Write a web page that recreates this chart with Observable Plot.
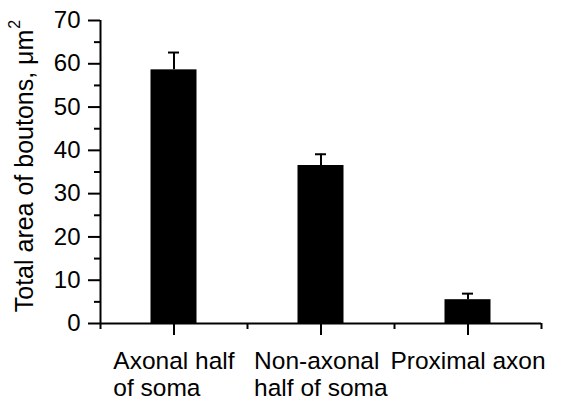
<!DOCTYPE html>
<html><head><meta charset="utf-8">
<script src="https://cdn.jsdelivr.net/npm/d3@7"></script>
<script src="https://cdn.jsdelivr.net/npm/@observablehq/plot@0.6"></script>
<style>body{margin:0;background:#fff;}</style>
</head><body><div id="chart"></div>
<script>
const categories = ["Axonal half\nof soma", "Non-axonal\nhalf of soma", "Proximal axon"];
const means = [58.6, 36.5, 5.5];
const errors = [4.0, 2.6, 1.4];
const yTicks = [0, 10, 20, 30, 40, 50, 60, 70];
const yMinorTicks = [5, 15, 25, 35, 45, 55, 65];
const yLabel = "Total area of boutons, μm";
const yLabelSup = "2";

const data = categories.map((c, i) => ({c, i, mean: means[i], err: errors[i]}));
const font = "'Liberation Sans', Arial, sans-serif";

const plot = Plot.plot({
  width: 583, height: 402,
  marginLeft: 100, marginRight: 42, marginTop: 20, marginBottom: 79,
  style: {fontFamily: font, background: "white", color: "black"},
  x: {domain: [0, categories.length], axis: null},
  y: {domain: [0, 70], axis: null},
  marks: [
    Plot.rectY(data, {x1: d => d.i, x2: d => d.i + 1, y1: 0, y2: "mean", fill: "black", insetLeft: 50.5, insetRight: 50.5}),
    Plot.ruleX(data, {x: d => d.i + 0.5, y1: "mean", y2: d => d.mean + d.err, stroke: "black", strokeWidth: 2}),
    Plot.ruleY(data, {y: d => d.mean + d.err, x1: d => d.i, x2: d => d.i + 1, insetLeft: 68, insetRight: 68, stroke: "black", strokeWidth: 2}),
    Plot.axisY({ticks: yTicks, tickSize: 12, tickPadding: 8, fontSize: 24, strokeWidth: 2, label: null}),
    Plot.axisY({ticks: yMinorTicks, tickSize: 6, text: null, strokeWidth: 2, label: null}),
    Plot.axisX({ticks: data.map(d => d.i + 0.5), tickFormat: d => categories[Math.floor(d)], tickSize: 12, tickPadding: 14, fontSize: 24.5, lineHeight: 1.1, strokeWidth: 2, label: null}),
    Plot.axisX({ticks: d3.range(0, categories.length + 1), tickSize: 6, text: null, strokeWidth: 2, label: null}),
    Plot.ruleX([0], {y1: 0, y2: 70, stroke: "black", strokeWidth: 2}),
    Plot.ruleY([0], {x1: 0, x2: categories.length, stroke: "black", strokeWidth: 2}),
    Plot.text([yLabel], {frameAnchor: "left", textAnchor: "middle", rotate: -90, dx: -76, dy: -6, fontSize: 25, fill: "black"})
  ]
});

d3.select(plot).selectAll("text")
  .filter(function() { return this.textContent === yLabel; })
  .each(function() {
    d3.select(this).append("tspan").attr("dx", 1).attr("dy", -13).attr("font-size", 16).text(yLabelSup);
  });

document.getElementById("chart").appendChild(plot);

// left-align multi-line x tick labels within a block centred on the tick
d3.select(plot).selectAll('g[aria-label="x-axis tick label"] text').each(function() {
  const spans = d3.select(this).selectAll("tspan");
  if (spans.size() > 1) {
    const w = this.getBBox().width;
    this.setAttribute("text-anchor", "start");
    spans.attr("x", -w / 2);
  }
});
</script>
</body></html>
